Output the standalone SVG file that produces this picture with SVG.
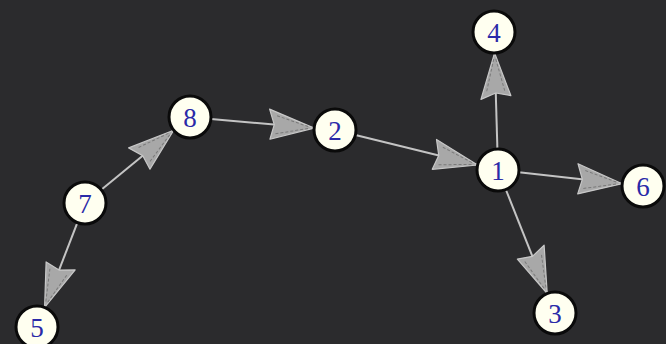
<svg xmlns="http://www.w3.org/2000/svg" width="666" height="344" viewBox="0 0 666 344">
<defs>
<style>
.node circle{fill:#fffff0;stroke:#0a0a0a;stroke-width:3}
.node text{font-family:"Liberation Serif","Times New Roman",serif;font-size:27px;fill:#2a2aa8;text-anchor:middle;dominant-baseline:central}
.edge{stroke:#c4c4c4;stroke-width:2;fill:none;marker-end:url(#arr)}
</style>
<marker id="arr" markerUnits="userSpaceOnUse" markerWidth="52" markerHeight="38" viewBox="-50 -19 52 38" refX="0" refY="0" orient="auto">
<path d="M0,0 L-46,-15 L-40,0 L-43,15 Z" fill="#a8a8a8" stroke="#c8c8c8" stroke-width="1.2" stroke-linejoin="round"/>
<path d="M-6,-1 L-38,-9 M-6,1 L-38,9" stroke="#7a7a7a" stroke-width="1" stroke-dasharray="3,2" fill="none"/>
</marker>
</defs>
<rect width="666" height="344" fill="#2b2b2d"/>
<g id="edges">
<line class="edge" x1="210.9" y1="118.9" x2="314.1" y2="128.1"/>
<line class="edge" x1="355.4" y1="135" x2="477.6" y2="165"/>
<line class="edge" x1="497.4" y1="149" x2="494.6" y2="53"/>
<line class="edge" x1="518.9" y1="172.3" x2="622.1" y2="183.7"/>
<line class="edge" x1="505.8" y1="189.5" x2="547.2" y2="293.5"/>
<line class="edge" x1="101.3" y1="189.7" x2="173.7" y2="130.3"/>
<line class="edge" x1="77.4" y1="222.6" x2="44.6" y2="307.4"/>
</g>
<g id="n1" class="node"><circle cx="498" cy="170" r="21"/><text x="498" y="171">1</text></g>
<g id="n2" class="node"><circle cx="335" cy="130" r="21"/><text x="335" y="131">2</text></g>
<g id="n3" class="node"><circle cx="555" cy="313" r="21"/><text x="555" y="314">3</text></g>
<g id="n4" class="node"><circle cx="494" cy="32" r="21"/><text x="494" y="33">4</text></g>
<g id="n5" class="node"><circle cx="37" cy="327" r="21"/><text x="37" y="328">5</text></g>
<g id="n6" class="node"><circle cx="643" cy="186" r="21"/><text x="643" y="187">6</text></g>
<g id="n7" class="node"><circle cx="85" cy="203" r="21"/><text x="85" y="204">7</text></g>
<g id="n8" class="node"><circle cx="190" cy="117" r="21"/><text x="190" y="118">8</text></g>
</svg>
